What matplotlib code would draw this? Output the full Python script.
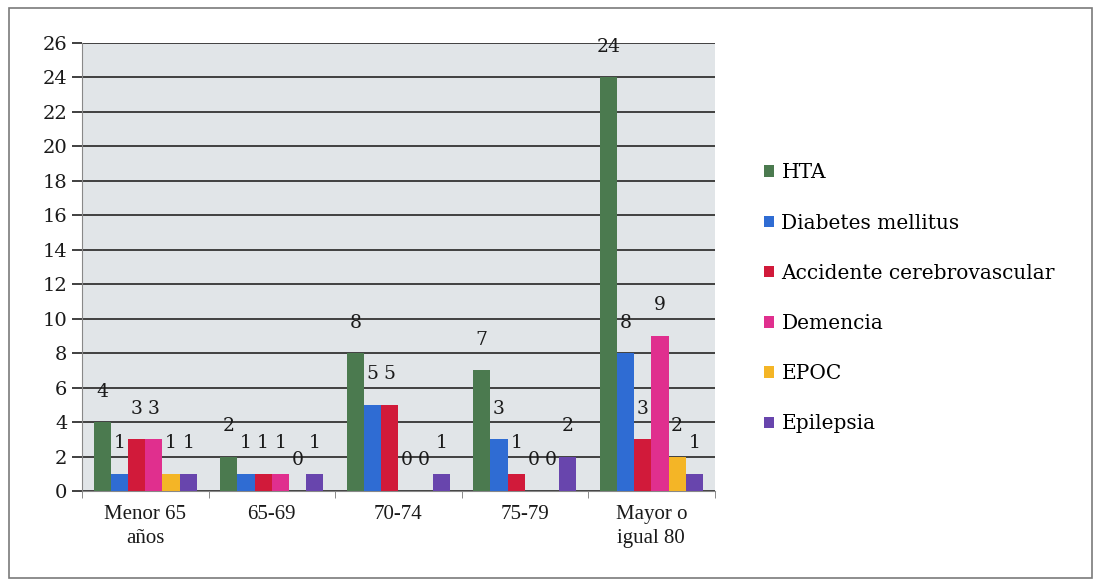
import numpy as np
import matplotlib
matplotlib.use("Agg")
import matplotlib.pyplot as plt
from matplotlib.patches import Rectangle

grupos = ["Menor 65\naños", "65-69", "70-74", "75-79", "Mayor o\nigual 80"]
series = ["HTA", "Diabetes mellitus", "Accidente cerebrovascular",
          "Demencia", "EPOC", "Epilepsia"]
hta = [4, 2, 8, 7, 24]
diabetes = [1, 1, 5, 3, 8]
acv = [3, 1, 5, 1, 3]
demencia = [3, 1, 0, 0, 9]
epoc = [1, 0, 0, 0, 2]
epilepsia = [1, 1, 1, 2, 1]
colores = ["#4b7a4f", "#2f6cd3", "#d11a3a", "#e02f8e", "#f4b526", "#6845ad"]

valores = [hta, diabetes, acv, demencia, epoc, epilepsia]

plt.rcParams["font.family"] = ["DejaVu Serif"]

fig = plt.figure(figsize=(11.01, 5.85), dpi=100)
fig.patches.append(Rectangle((0.008, 0.012), 0.984, 0.975, transform=fig.transFigure,
                             fill=False, edgecolor="#7a7a7a", linewidth=1.2))
ax = fig.add_axes([0.0745, 0.1607, 0.5745, 0.7658])
ax.set_facecolor("#e1e5e8")

x = np.arange(len(grupos))
ancho = 0.136
for i, (nombre, vals, c) in enumerate(zip(series, valores, colores)):
    pos = x + (i - 2.5) * ancho
    ax.bar(pos, vals, width=ancho, color=c, label=nombre, zorder=3)
    for px, v in zip(pos, vals):
        ax.annotate(str(v), (px, v), xytext=(0, 22), textcoords="offset points",
                    ha="center", va="center", fontsize=13.5, color="#1a1a1a")

ax.set_xlim(-0.5, len(grupos) - 0.5)
ax.set_ylim(0, 26)
ax.set_yticks(range(0, 27, 2))
ax.yaxis.grid(True, color="#404040", linewidth=1.4, zorder=1)
ax.set_xticks(x)
ax.set_xticklabels(grupos, fontsize=15, color="#1a1a1a", linespacing=1.35,
                   family="Liberation Serif")
ax.set_xticks(np.arange(-0.5, len(grupos)), minor=True)
ax.tick_params(axis="x", which="major", length=0, pad=10)
ax.tick_params(axis="x", which="minor", length=5, color="#777777")
ax.tick_params(axis="y", length=7, width=1.4, color="#404040", labelsize=14,
               labelcolor="#1a1a1a")
for s in ["top", "right"]:
    ax.spines[s].set_visible(False)
ax.spines["left"].set_color("#888888")
ax.spines["bottom"].set_color("#888888")

ax.legend(loc="center left", bbox_to_anchor=(1.05, 0.43), frameon=False,
          fontsize=14.5, handlelength=0.5, handleheight=0.5, handletextpad=0.35,
          labelspacing=1.55)

fig.savefig("out.png", dpi=100)
